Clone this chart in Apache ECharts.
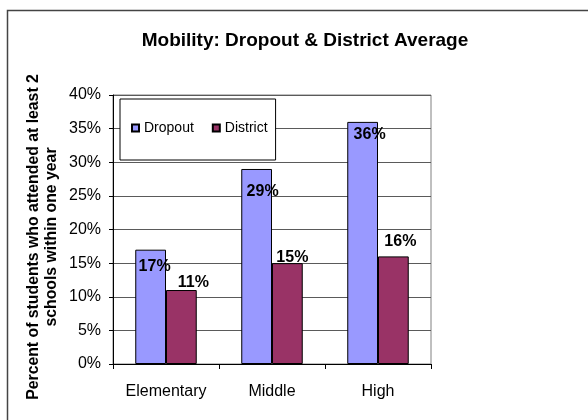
<!DOCTYPE html>
<html>
<head>
<meta charset="utf-8">
<script src="https://cdn.jsdelivr.net/npm/echarts@6/dist/echarts.min.js"></script>
<style>
  html, body { margin: 0; padding: 0; background: #fff; }
  #chart { width: 588px; height: 420px; }
</style>
</head>
<body>
<div id="chart"></div>
<script>
// School levels and mobility rates (percent)
const categories = ['Elementary', 'Middle', 'High'];
const dropoutValues = [17, 29, 36];
const districtValues = [11, 15, 16];
const seriesNames = ['Dropout', 'District'];

// Per-bar nudges for the value labels, relative to the default "top" position
const dropoutLabelShift = [[4, 30], [6, 36], [7, 26]];
const districtLabelShift = [[12, 6], [5, 7], [7, -2]];

const FONT = '"Liberation Sans", Arial, sans-serif';

function withLabels(values, shifts) {
  return values.map((v, i) => ({
    value: v,
    label: { offset: shifts[i] }
  }));
}

const chart = echarts.init(document.getElementById('chart'), null, { renderer: 'canvas' });

const labelStyle = {
  show: true,
  position: 'top',
  distance: 5,
  formatter: '{c}%',
  fontFamily: FONT,
  fontSize: 16,
  fontWeight: 'bold',
  color: '#000'
};

chart.setOption({
  animation: false,
  backgroundColor: '#fff',
  textStyle: { fontFamily: FONT },
  title: {
    text: 'Mobility: Dropout & District Average',
    left: 300,
    top: 26,
    textAlign: 'center',
    textStyle: { fontFamily: FONT, fontSize: 19, fontWeight: 'bold', color: '#000' }
  },
  legend: {
    data: seriesNames,
    left: 120,
    top: 99,
    orient: 'horizontal',
    icon: 'rect',
    itemWidth: 7,
    itemHeight: 7,
    itemGap: 18,
    padding: [22, 8, 25, 11],
    backgroundColor: '#fff',
    borderColor: '#000',
    borderWidth: 1,
    borderRadius: 0,
    textStyle: { fontFamily: FONT, fontSize: 14, color: '#000' }
  },
  grid: {
    left: 113,
    top: 95,
    right: 157,
    bottom: 56,
    show: true,
    borderColor: '#808080',
    borderWidth: 1,
    backgroundColor: '#fff'
  },
  xAxis: {
    type: 'category',
    data: categories,
    axisLine: { lineStyle: { color: '#000', width: 1 } },
    axisTick: { show: true, length: 5, lineStyle: { color: '#000' } },
    axisLabel: { fontFamily: FONT, fontSize: 16, color: '#000', margin: 20 },
    splitLine: { show: false }
  },
  yAxis: {
    type: 'value',
    min: 0,
    max: 40,
    interval: 5,
    axisLine: { show: true, lineStyle: { color: '#000', width: 1 } },
    axisTick: { show: true, length: 4, lineStyle: { color: '#000' } },
    axisLabel: { fontFamily: FONT, fontSize: 16, color: '#000', margin: 12, formatter: '{value}%' },
    splitLine: { show: true, lineStyle: { color: '#5a5a5a', width: 1 } }
  },
  series: [
    {
      name: seriesNames[0],
      type: 'bar',
      data: withLabels(dropoutValues, dropoutLabelShift),
      barGap: '0%',
      barCategoryGap: '42%',
      itemStyle: { color: '#9999FF', borderColor: '#000', borderWidth: 1 },
      label: labelStyle
    },
    {
      name: seriesNames[1],
      type: 'bar',
      data: withLabels(districtValues, districtLabelShift),
      barGap: '0%',
      barCategoryGap: '42%',
      itemStyle: { color: '#993366', borderColor: '#000', borderWidth: 1 },
      label: labelStyle
    }
  ],
  graphic: [
    {
      type: 'rect',
      left: 5,
      top: 8,
      shape: { x: 0, y: 0, width: 620, height: 440 },
      style: { fill: 'none', stroke: '#444', lineWidth: 1.5 },
      silent: true,
      z: -1
    },
    {
      type: 'text',
      x: 43,
      y: 237,
      rotation: Math.PI / 2,
      style: {
        text: 'Percent of students who attended at least 2\nschools within one year',
        font: 'bold 15.8px ' + FONT,
        fill: '#000',
        textAlign: 'center',
        textVerticalAlign: 'middle',
        lineHeight: 18
      },
      silent: true
    }
  ]
});
</script>
</body>
</html>
